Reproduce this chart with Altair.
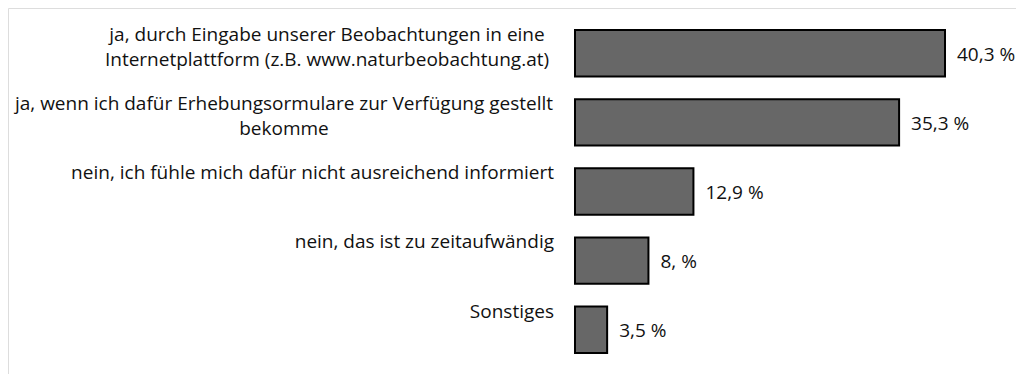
import altair as alt
import pandas as pd

categories = [
    "ja, durch Eingabe unserer Beobachtungen in eine\nInternetplattform (z.B. www.naturbeobachtung.at)",
    "ja, wenn ich dafür Erhebungsormulare zur Verfügung gestellt\nbekomme",
    "nein, ich fühle mich dafür nicht ausreichend informiert",
    "nein, das ist zu zeitaufwändig",
    "Sonstiges",
]
values = [40.3, 35.3, 12.9, 8.0, 3.5]
value_labels = ["40,3 %", "35,3 %", "12,9 %", "8, %", "3,5 %"]
keys = ["a", "b", "c", "d", "e"]

df = pd.DataFrame({"key": keys, "cat": categories, "val": values, "lab": value_labels})

FONT = "Open Sans"
FS = 19
RIGHT = 546  # right edge of the category label column
# widest-line width of multi-line labels (lines are centred within the block)
BLOCK_W = {"a": 456, "b": 542}

xs = alt.Scale(domain=[0, 40.3], range=[567, 937], zero=True, nice=False)
ys = alt.Scale(domain=keys, range=[10.7, 356.3], paddingInner=0.33, paddingOuter=0.165)

base = alt.Chart(df)

bars = base.mark_bar(fill="#676767", stroke="#000000", strokeWidth=2, cornerRadius=0).encode(
    x=alt.X("val:Q", scale=xs, axis=None),
    x2=alt.datum(0),
    y=alt.Y("key:N", scale=ys, axis=None, sort=keys),
)

text_style = dict(font=FONT, fontSize=FS, baseline="alphabetic", dy=11,
                  lineBreak="\n", lineHeight=25, color="#111111")

single = base.transform_filter(
    alt.FieldOneOfPredicate(field="key", oneOf=[k for k in keys if k not in BLOCK_W])
).mark_text(align="right", **text_style).encode(
    x=alt.value(RIGHT),
    y=alt.Y("key:N", scale=ys, axis=None, sort=keys, bandPosition=0),
    text="cat:N",
)

multi_layers = []
for k, w in BLOCK_W.items():
    multi_layers.append(
        base.transform_filter(alt.datum.key == k)
        .mark_text(align="center", **text_style)
        .encode(
            x=alt.value(RIGHT + 1 - w / 2),
            y=alt.Y("key:N", scale=ys, axis=None, sort=keys, bandPosition=0),
            text="cat:N",
        )
    )

val_text = base.mark_text(
    font=FONT, fontSize=FS, align="left", baseline="alphabetic", dx=12, dy=7.5,
    color="#111111",
).encode(
    x=alt.X("val:Q", scale=xs, axis=None),
    y=alt.Y("key:N", scale=ys, axis=None, sort=keys),
    text="lab:N",
)

chart = (
    alt.layer(bars, single, *multi_layers, val_text)
    .properties(width=1008, height=366, padding=0, autosize=alt.AutoSizeParams(type="none"))
    .configure_view(stroke="#404040", strokeWidth=1.5)
    .configure(background="#ffffff")
)

chart.save("out.html", embed_options={"renderer": "svg", "actions": False})
